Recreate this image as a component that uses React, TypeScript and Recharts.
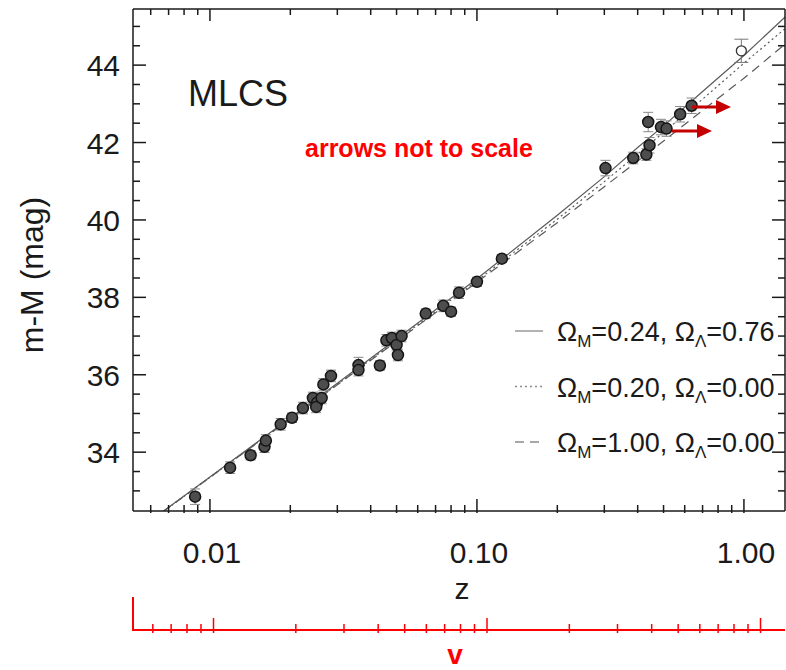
import React from 'react'
import { ComposedChart, Line, Scatter, ErrorBar, XAxis, YAxis, Legend } from 'recharts'

const FONT = "Arial, 'Liberation Sans', Helvetica, sans-serif"

// SN Ia sample: redshift, distance modulus, error
const snZ = [
  0.0088, 0.0119, 0.0142, 0.016, 0.0162, 0.0184, 0.0203, 0.0223, 0.0243, 0.0252,
  0.025, 0.0262, 0.0266, 0.0284, 0.036, 0.036, 0.0433, 0.0458, 0.048, 0.05,
  0.0506, 0.0522, 0.0643, 0.0748, 0.08, 0.0857, 0.1, 0.124, 0.303, 0.385,
  0.431, 0.443, 0.438, 0.489, 0.513, 0.577, 0.637,
]
const snMu = [
  32.85, 33.6, 33.92, 34.14, 34.3, 34.72, 34.89, 35.14, 35.4, 35.28,
  35.17, 35.4, 35.75, 35.97, 36.25, 36.12, 36.24, 36.89, 36.95, 36.77,
  36.51, 37.0, 37.58, 37.78, 37.63, 38.12, 38.4, 39.0, 41.34, 41.6,
  41.69, 41.93, 42.53, 42.4, 42.36, 42.73, 42.95,
]
const snErr = [
  0.2, 0.15, 0.12, 0.15, 0.15, 0.15, 0.12, 0.15, 0.15, 0.15,
  0.15, 0.15, 0.15, 0.15, 0.2, 0.15, 0.12, 0.15, 0.15, 0.15,
  0.15, 0.15, 0.12, 0.15, 0.12, 0.15, 0.12, 0.1, 0.2, 0.15,
  0.15, 0.2, 0.25, 0.2, 0.2, 0.2, 0.2,
]
// the open symbol near z = 1
const openZ = [0.978]
const openMu = [44.37]
const openErr = [0.3]

// model curves
const modelZ = [0.0067, 0.01, 0.03, 0.1, 0.2, 0.3, 0.4, 0.5, 0.7, 1.0, 1.43]
const lambdaMu = [32.48, 33.36, 35.78, 38.48, 40.12, 41.12, 41.87, 42.43, 43.32, 44.25, 45.25]
const openModelMu = [32.47, 33.35, 35.75, 38.43, 40.02, 40.99, 41.7, 42.26, 43.12, 44.05, 44.95]
const flatMu = [32.47, 33.35, 35.74, 38.39, 39.93, 40.86, 41.52, 42.04, 42.83, 43.66, 44.55]

const omegaM = ['0.24', '0.20', '1.00']
const omegaL = ['0.76', '0.00', '0.00']
const modelDash = ['', '2 3', '9 6']

const zTicks = [
  0.006, 0.007, 0.008, 0.009, 0.01, 0.02, 0.03, 0.04, 0.05, 0.06, 0.07, 0.08, 0.09,
  0.1, 0.2, 0.3, 0.4, 0.5, 0.6, 0.7, 0.8, 0.9, 1,
]
const zMajor = [0.01, 0.1, 1]
const zLabels = ['0.01', '0.10', '1.00']
const muTicks = [
  33, 33.5, 34, 34.5, 35, 35.5, 36, 36.5, 37, 37.5, 38, 38.5, 39, 39.5,
  40, 40.5, 41, 41.5, 42, 42.5, 43, 43.5, 44, 44.5, 45,
]
const muMajor = [34, 36, 38, 40, 42, 44]

const Z_DOMAIN = [0.00515, 1.425]
const V_DOMAIN = [0.005078, 1.229]
const MU_DOMAIN = [32.48, 45.45]

const sn = snZ.map((z, i) => ({ z, m: snMu[i], e: snErr[i] }))
const openSn = openZ.map((z, i) => ({ z, m: openMu[i], e: openErr[i] }))
const toCurve = (mu: number[]) => modelZ.map((z, i) => ({ z, m: mu[i] }))
const curves = [toCurve(lambdaMu), toCurve(openModelMu), toCurve(flatMu)]

const INK = '#1a1a1a'
const RED = '#ff0000'

const BottomTick = ({ x, y, payload }: any) => {
  const i = zMajor.indexOf(payload.value)
  return (
    <g>
      <line x1={x} x2={x} y1={y + 2} y2={y - (i >= 0 ? 12 : 6)} stroke={INK} strokeWidth={1.5} />
      {i >= 0 && (
        <text x={x + 2} y={y + 52} textAnchor="middle" fontFamily={FONT} fontSize={30} fill={INK}>
          {zLabels[i]}
        </text>
      )}
    </g>
  )
}

const TopTick = ({ x, y, payload }: any) => {
  const major = zMajor.includes(payload.value)
  return <line x1={x} x2={x} y1={y} y2={y + (major ? 12 : 6)} stroke={INK} strokeWidth={1.5} />
}

const LeftTick = ({ x, y, payload }: any) => {
  const major = muMajor.includes(payload.value)
  return (
    <g>
      <line x1={x} x2={x + (major ? 13 : 7)} y1={y} y2={y} stroke={INK} strokeWidth={1.5} />
      {major && (
        <text x={x - 13} y={y + 11} textAnchor="end" fontFamily={FONT} fontSize={30} fill={INK}>
          {payload.value}
        </text>
      )}
    </g>
  )
}

const RightTick = ({ x, y, payload }: any) => {
  const major = muMajor.includes(payload.value)
  return <line x1={x} x2={x - (major ? 13 : 7)} y1={y} y2={y} stroke={INK} strokeWidth={1.5} />
}

const VTick = ({ x, y, payload }: any) => {
  const major = zMajor.includes(payload.value)
  return <line x1={x} x2={x} y1={y + 3} y2={y - (major ? 12 : 6)} stroke={RED} strokeWidth={1.5} />
}

const renderLegend = () => (
  <svg width={280} height={170} style={{ overflow: 'visible' }}>
    {omegaM.map((om, i) => {
      const y = 31 + i * 55.5
      return (
        <g key={om + i}>
          <line x1={10} x2={38} y1={y} y2={y} stroke="#8a8a8a" strokeWidth={1.3} strokeDasharray={modelDash[i] || undefined} />
          <text x={52} y={y + 10} fontFamily={FONT} fontSize={27} fill={INK}>
            Ω<tspan dy={6} fontSize={17}>M</tspan>
            <tspan dy={-6}>={om}, Ω</tspan>
            <tspan dy={6} fontSize={17}>Λ</tspan>
            <tspan dy={-6}>={omegaL[i]}</tspan>
          </text>
        </g>
      )
    })}
  </svg>
)

// an axis only gets its ticks when a series is bound to it
const hidden = {
  data: curves[0],
  dataKey: 'm',
  stroke: 'none',
  dot: false,
  activeDot: false,
  legendType: 'none' as const,
  isAnimationActive: false,
}

const layer: React.CSSProperties = { position: 'absolute', left: 0, top: 0, pointerEvents: 'none' }

export default function App() {
  return (
    <div style={{ position: 'absolute', left: 0, top: 0, width: 786, height: 670, background: '#fff' }}>
      {/* main plot: z axis, top frame, left m-M axis */}
      <div style={layer}>
        <ComposedChart width={786} height={670} margin={{ top: 0, right: 1, bottom: 40, left: 0 }}>
          <XAxis
            xAxisId="a"
            dataKey="z"
            type="number"
            scale="log"
            domain={Z_DOMAIN}
            allowDataOverflow
            ticks={zTicks}
            interval={0}
            height={119}
            tickSize={0}
            tickMargin={0}
            tickLine={false}
            tick={<BottomTick />}
            axisLine={{ stroke: INK, strokeWidth: 1.5 }}
            label={(p: any) => {
              const vb = p.viewBox || { x: 133, y: 511, width: 652 }
              return (
                <text x={vb.x + vb.width / 2 + 3} y={vb.y + 88} textAnchor="middle" fontFamily={FONT} fontSize={30} fill={INK}>
                  z
                </text>
              )
            }}
          />
          <XAxis
            xAxisId="top"
            dataKey="z"
            orientation="top"
            type="number"
            scale="log"
            domain={Z_DOMAIN}
            allowDataOverflow
            ticks={zTicks}
            interval={0}
            height={9}
            tickSize={0}
            tickMargin={0}
            tickLine={false}
            tick={<TopTick />}
            axisLine={{ stroke: INK, strokeWidth: 1.5 }}
          />
          <YAxis
            yAxisId="m"
            dataKey="m"
            type="number"
            domain={MU_DOMAIN}
            allowDataOverflow
            ticks={muTicks}
            interval={0}
            width={133}
            tickSize={0}
            tickMargin={0}
            tickLine={false}
            tick={<LeftTick />}
            axisLine={{ stroke: INK, strokeWidth: 1.5 }}
            label={(p: any) => {
              const vb = p.viewBox || { x: 0, y: 9, width: 133, height: 502 }
              const cx = vb.x + 32
              const cy = vb.y + vb.height / 2 + 15
              return (
                <text x={cx} y={cy} transform={`rotate(-90, ${cx}, ${cy})`} textAnchor="middle" dominantBaseline="central" fontFamily={FONT} fontSize={32} fill={INK}>
                  m-M (mag)
                </text>
              )
            }}
          />
          <Legend content={renderLegend} layout="horizontal" verticalAlign="middle" align="center" wrapperStyle={{ left: 505, top: 300, width: 281 }} />
          <Line xAxisId="top" yAxisId="m" {...hidden} />
          {curves.map((c, i) => (
            <Line
              key={'model' + i}
              xAxisId="a"
              yAxisId="m"
              data={c}
              dataKey="m"
              type="linear"
              stroke="#5a5a5a"
              strokeWidth={1.2}
              strokeDasharray={modelDash[i] || undefined}
              dot={false}
              activeDot={false}
              isAnimationActive={false}
            />
          ))}
          <Scatter
            xAxisId="a"
            yAxisId="m"
            data={sn}
            dataKey="m"
            isAnimationActive={false}
            shape={(p: any) => <circle cx={p.cx} cy={p.cy} r={5.5} fill="#4d4d4d" stroke="#151515" strokeWidth={1.5} />}
          >
            <ErrorBar dataKey="e" direction="y" width={5} stroke="#8a8a8a" strokeWidth={1} isAnimationActive={false} />
          </Scatter>
          <Scatter
            xAxisId="a"
            yAxisId="m"
            data={openSn}
            dataKey="m"
            isAnimationActive={false}
            shape={(p: any) => <circle cx={p.cx} cy={p.cy} r={5} fill="#fff" stroke="#333" strokeWidth={1.3} />}
          >
            <ErrorBar dataKey="e" direction="y" width={7} stroke="#777" strokeWidth={1} isAnimationActive={false} />
          </Scatter>
        </ComposedChart>
      </div>

      {/* right frame axis */}
      <div style={layer}>
        <ComposedChart width={786} height={670} margin={{ top: 9, right: 0, bottom: 159, left: 133 }}>
          <XAxis xAxisId="rx" dataKey="z" type="number" scale="log" domain={Z_DOMAIN} allowDataOverflow hide />
          <YAxis
            yAxisId="r"
            dataKey="m"
            orientation="right"
            type="number"
            domain={MU_DOMAIN}
            allowDataOverflow
            ticks={muTicks}
            interval={0}
            width={1}
            tickSize={0}
            tickMargin={0}
            tickLine={false}
            tick={<RightTick />}
            axisLine={{ stroke: INK, strokeWidth: 1.5 }}
          />
          <Line xAxisId="rx" yAxisId="r" {...hidden} />
        </ComposedChart>
      </div>

      {/* red velocity axis */}
      <div style={layer}>
        <ComposedChart width={786} height={670} margin={{ top: 520, right: 1, bottom: 0, left: 133 }}>
          <XAxis
            xAxisId="v"
            dataKey="z"
            type="number"
            scale="log"
            domain={V_DOMAIN}
            allowDataOverflow
            ticks={zTicks}
            interval={0}
            height={40}
            tickSize={0}
            tickMargin={0}
            tickLine={false}
            tick={<VTick />}
            axisLine={{ stroke: RED, strokeWidth: 2 }}
            label={(p: any) => {
              const vb = p.viewBox || { x: 133, y: 630, width: 652 }
              return (
                <text x={vb.x + vb.width / 2 - 4} y={vb.y + 34} textAnchor="middle" fontFamily={FONT} fontWeight="bold" fontSize={28} fill={RED}>
                  v
                </text>
              )
            }}
          />
          <YAxis yAxisId="vy" dataKey="m" type="number" domain={MU_DOMAIN} allowDataOverflow hide />
          <Line xAxisId="v" yAxisId="vy" {...hidden} />
        </ComposedChart>
      </div>

      {/* annotations */}
      <svg width={786} height={670} style={layer}>
        <text x={188} y={106} fontFamily={FONT} fontSize={36} fill={INK}>MLCS</text>
        <text x={305} y={157} fontFamily={FONT} fontWeight="bold" fontSize={25} fill={RED}>arrows not to scale</text>
        <line x1={692} x2={717} y1={107} y2={107} stroke="#c40000" strokeWidth={3} />
        <polygon points="716,100 731,107 716,114" fill="#c40000" />
        <line x1={672} x2={698} y1={131} y2={131} stroke="#c40000" strokeWidth={3} />
        <polygon points="697,124 712,131 697,138" fill="#c40000" />
        <line x1={133} x2={133} y1={597} y2={631} stroke={RED} strokeWidth={2} />
      </svg>
    </div>
  )
}
